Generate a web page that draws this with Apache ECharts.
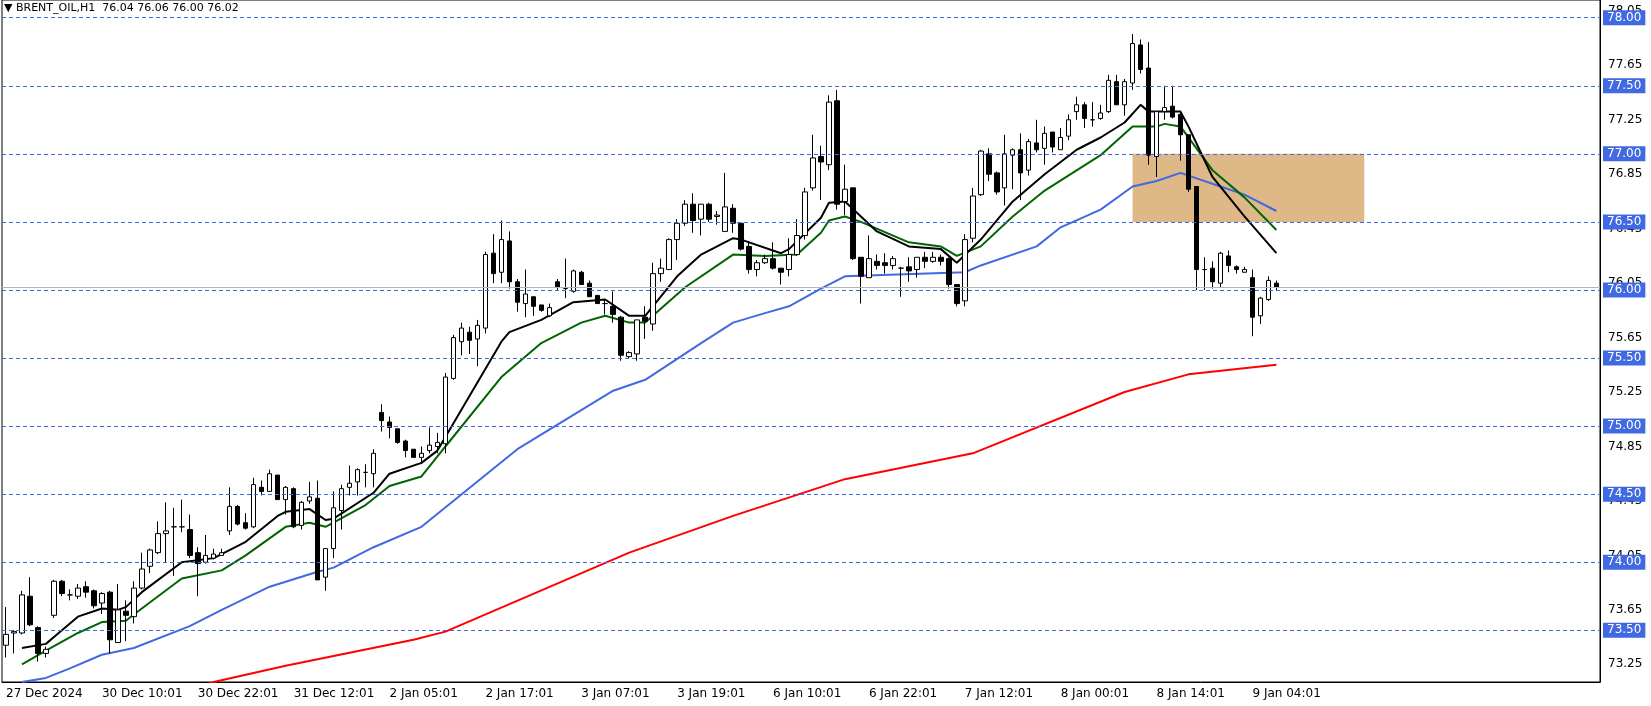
<!DOCTYPE html>
<html><head><meta charset="utf-8">
<script src="https://cdn.jsdelivr.net/npm/echarts@6/dist/echarts.min.js"></script>
<style>html,body{margin:0;padding:0;background:#fff}#c{width:1651px;height:706px}</style>
</head><body><div id="c"></div>
<script>
const tickLabels = ["27 Dec 2024","30 Dec 10:01","30 Dec 22:01","31 Dec 12:01","2 Jan 05:01","2 Jan 17:01","3 Jan 07:01","3 Jan 19:01","6 Jan 10:01","6 Jan 22:01","7 Jan 12:01","8 Jan 00:01","8 Jan 14:01","9 Jan 04:01"];
const ohlc = [
[73.39,73.67,73.30,73.47],[73.48,73.50,73.33,73.49],[73.48,73.79,73.47,73.76],[73.75,73.89,73.53,73.54],[73.52,73.53,73.27,73.33],
[73.33,73.38,73.30,73.36],[73.61,73.87,73.59,73.86],[73.86,73.87,73.75,73.77],[73.76,73.80,73.72,73.76],[73.75,73.84,73.73,73.81],
[73.82,73.86,73.74,73.78],[73.79,73.80,73.66,73.68],[73.70,73.78,73.62,73.77],[73.78,73.79,73.33,73.43],[73.41,73.84,73.41,73.65],
[73.64,73.72,73.42,73.61],[73.60,73.86,73.55,73.81],[73.81,74.07,73.80,73.95],[73.97,74.10,73.92,74.09],[74.07,74.30,74.06,74.21],
[74.21,74.44,74.00,74.23],[74.26,74.40,73.90,74.26],[74.26,74.46,74.22,74.26],[74.24,74.35,74.03,74.05],[74.07,74.11,73.75,73.99],
[74.00,74.20,73.99,74.05],[74.03,74.10,74.02,74.06],[74.05,74.10,74.05,74.07],[74.23,74.55,74.20,74.41],[74.41,74.42,74.27,74.28],
[74.29,74.36,74.24,74.25],[74.26,74.62,74.25,74.57],[74.55,74.60,74.49,74.52],[74.52,74.68,74.52,74.65],[74.64,74.64,74.46,74.46],
[74.46,74.56,74.35,74.55],[74.54,74.55,74.25,74.26],[74.27,74.45,74.24,74.44],[74.45,74.59,74.43,74.48],[74.47,74.60,73.87,73.87],
[73.89,74.10,73.79,74.10],[74.10,74.52,74.03,74.40],[74.38,74.57,74.24,74.54],[74.55,74.71,74.49,74.58],[74.59,74.69,74.49,74.68],
[74.66,74.72,74.55,74.66],[74.65,74.83,74.55,74.80],[75.10,75.16,74.96,75.04],[75.03,75.07,74.91,74.99],[74.98,74.98,74.87,74.88],
[74.89,74.90,74.77,74.82],[74.83,74.83,74.77,74.77],[74.77,74.85,74.72,74.80],[74.82,74.99,74.80,74.86],[74.85,74.95,74.80,74.88],
[74.87,75.39,74.80,75.36],[75.35,75.67,75.34,75.65],[75.62,75.76,75.52,75.72],[75.69,75.73,75.53,75.63],[75.64,75.78,75.44,75.74],
[75.72,76.28,75.68,76.26],[76.27,76.41,76.05,76.12],[76.13,76.51,76.05,76.37],[76.36,76.43,76.01,76.06],[76.06,76.08,75.84,75.91],
[75.90,76.15,75.80,75.97],[75.95,75.95,75.81,75.88],[75.89,75.89,75.84,75.85],[75.81,75.90,75.80,75.87],[76.06,76.08,76.00,76.02],
[76.01,76.23,75.94,76.01],[75.99,76.15,75.98,76.14],[76.13,76.14,76.04,76.04],[76.05,76.07,75.95,75.95],[75.96,75.96,75.90,75.90],
[75.90,75.93,75.82,75.90],[75.88,75.99,75.76,75.82],[75.80,75.81,75.48,75.52],[75.51,75.55,75.50,75.54],[75.53,75.78,75.48,75.78],
[75.80,75.88,75.64,75.77],[75.75,76.20,75.70,76.12],[76.12,76.23,76.06,76.16],[76.15,76.38,76.15,76.37],[76.37,76.52,76.22,76.49],
[76.49,76.66,76.47,76.63],[76.63,76.71,76.42,76.51],[76.52,76.63,76.40,76.63],[76.63,76.64,76.50,76.52],[76.54,76.58,76.48,76.55],
[76.43,76.86,76.43,76.61],[76.60,76.63,76.42,76.49],[76.49,76.49,76.29,76.30],[76.32,76.36,76.12,76.15],[76.15,76.22,76.10,76.20],
[76.20,76.26,76.19,76.23],[76.23,76.35,76.15,76.16],[76.16,76.16,76.04,76.13],[76.15,76.38,76.10,76.26],[76.26,76.52,76.25,76.40],
[76.40,76.75,76.37,76.72],[76.75,77.14,76.73,76.97],[76.98,77.06,76.66,76.94],[76.92,77.43,76.88,77.38],[77.39,77.47,76.59,76.63],
[76.65,76.92,76.55,76.74],[76.75,76.75,76.22,76.23],[76.24,76.24,75.90,76.10],[76.09,76.40,76.09,76.23],[76.21,76.26,76.15,76.18],
[76.20,76.27,76.12,76.18],[76.18,76.25,76.15,76.23],[76.16,76.17,75.95,76.16],[76.17,76.24,76.06,76.14],[76.15,76.24,76.09,76.24],
[76.24,76.28,76.16,76.21],[76.21,76.28,76.20,76.24],[76.24,76.26,76.18,76.21],[76.23,76.24,76.01,76.04],[76.04,76.04,75.88,75.90],
[75.92,76.41,75.88,76.37],[76.38,76.75,76.35,76.69],[76.70,77.03,76.69,77.02],[77.00,77.04,76.80,76.85],[76.86,76.87,76.70,76.72],
[76.75,77.14,76.62,77.00],[76.99,77.04,76.74,77.03],[77.03,77.15,76.66,76.86],[76.88,77.11,76.84,77.09],[77.08,77.25,77.01,77.03],
[77.04,77.20,76.92,77.15],[77.16,77.16,77.01,77.05],[77.03,77.19,77.03,77.12],[77.13,77.29,77.10,77.25],[77.31,77.42,77.25,77.36],
[77.36,77.38,77.19,77.26],[77.25,77.38,77.20,77.25],[77.26,77.36,77.25,77.30],[77.31,77.58,77.30,77.54],[77.53,77.58,77.36,77.36],
[77.36,77.55,77.28,77.53],[77.52,77.88,77.47,77.81],[77.80,77.84,77.59,77.62],[77.63,77.82,76.92,76.99],[76.98,77.31,76.83,77.31],
[77.31,77.50,77.25,77.34],[77.35,77.50,77.26,77.27],[77.29,77.30,76.95,77.14],[77.14,77.14,76.72,76.74],[76.76,76.76,76.00,76.15],
[76.15,76.24,76.00,76.15],[76.16,76.21,76.01,76.06],[76.05,76.28,76.02,76.27],[76.25,76.29,76.13,76.18],[76.17,76.18,76.12,76.15],
[76.13,76.17,76.13,76.15],[76.09,76.15,75.66,75.80],[75.81,75.95,75.75,75.94],[75.93,76.10,75.92,76.07],[76.05,76.07,76.00,76.02]
];
const blackMA = [[2,73.37],[5,73.40],[6,73.45],[9,73.60],[12,73.66],[14,73.65],[15,73.67],[17,73.78],[22,74.00],[26,74.03],[30,74.15],[34,74.34],[35,74.37],[38,74.39],[40,74.31],[41,74.32],[46,74.51],[48,74.65],[52,74.73],[54,74.82],[62,75.62],[63,75.69],[67,75.78],[71,75.91],[75,75.93],[78,75.81],[80,75.81],[84,76.10],[87,76.26],[91,76.38],[92,76.37],[97,76.27],[98,76.30],[102,76.53],[103,76.64],[105,76.65],[109,76.43],[113,76.32],[117,76.30],[119,76.20],[122,76.37],[126,76.65],[130,76.85],[134,77.03],[137,77.12],[140,77.23],[142,77.36],[143,77.31],[147,77.31],[148,77.20],[151,76.83],[155,76.54],[159,76.27]];
const greenMA = [[2,73.25],[5,73.35],[9,73.48],[12,73.56],[15,73.57],[17,73.66],[22,73.88],[27,73.94],[30,74.05],[35,74.26],[38,74.29],[40,74.26],[45,74.42],[48,74.56],[52,74.63],[55,74.85],[62,75.36],[67,75.61],[72,75.76],[75,75.81],[78,75.76],[80,75.76],[85,76.02],[91,76.26],[95,76.25],[99,76.26],[102,76.42],[103,76.51],[105,76.54],[107,76.50],[113,76.35],[117,76.32],[119,76.25],[122,76.32],[126,76.54],[130,76.73],[137,76.99],[141,77.20],[144,77.20],[145,77.22],[147,77.20],[151,76.88],[155,76.68],[159,76.44]];
const blueMA = [[2,73.12],[5,73.15],[8,73.22],[12,73.32],[16,73.37],[23,73.53],[27,73.65],[33,73.82],[39,73.93],[41,73.96],[46,74.11],[52,74.26],[64,74.83],[76,75.26],[80,75.34],[87,75.61],[91,75.76],[95,75.83],[98,75.88],[102,76.01],[105,76.10],[120,76.13],[122,76.18],[129,76.32],[132,76.46],[137,76.59],[141,76.76],[144,76.80],[147,76.86],[152,76.76],[155,76.70],[159,76.58]];
const redMA = [[24,73.08],[26,73.12],[35,73.24],[51,73.43],[55,73.49],[78,74.07],[91,74.34],[105,74.61],[121,74.80],[140,75.25],[148,75.38],[159,75.45]];
const axisTicks = [78.05,77.65,77.25,76.85,76.45,76.05,75.65,75.25,74.85,74.45,74.05,73.65,73.25];
const gridLevels = [78.00,77.50,77.00,76.50,76.00,75.50,75.00,74.50,74.00,73.50];
const zone = [141,170,76.50,77.00];
const lastPrice = 76.02;

const N = 200;
const cats = [];
for (let i=0;i<N;i++) cats.push(i%12===0 && tickLabels[i/12] ? tickLabels[i/12] : '');
const font = 'DejaVu Sans';
const marks = [];
axisTicks.forEach(v=>marks.push({yAxis:v,lineStyle:{color:'rgba(0,0,0,0)',width:1,type:'solid'},label:{show:true,position:'end',distance:8,formatter:v.toFixed(2),color:'#000',fontSize:12,fontFamily:font}}));
marks.push({yAxis:lastPrice,lineStyle:{type:'solid',color:'#b4b4b4',width:1},label:{show:false}});
gridLevels.forEach(v=>marks.push({yAxis:v,lineStyle:{type:[4,3],color:'#4169e1',width:1},label:{show:true,position:'end',distance:3,formatter:v.toFixed(2),color:'#fff',backgroundColor:'#4169e1',padding:[2,4,1,4],fontSize:12,fontFamily:font}}));

const line=(d,c,w)=>({type:'line',data:d,symbol:'none',smooth:false,lineStyle:{color:c,width:w},silent:true,z:3});
const chart = echarts.init(document.getElementById('c'));
chart.setOption({
  animation:false,
  grid:{left:2,right:51,top:0,bottom:24,show:true,borderColor:'#000',borderWidth:1},
  xAxis:{type:'category',data:cats,boundaryGap:true,
    axisLine:{lineStyle:{color:'#000'}},
    axisTick:{alignWithLabel:true,interval:(i)=>i%12===0&&i<168,length:4,lineStyle:{color:'#000'}},
    axisLabel:{interval:(i)=>i%12===0&&i<168,align:'left',color:'#000',fontSize:12,fontFamily:font,margin:6},
    splitLine:{show:false}},
  yAxis:{type:'value',position:'right',min:73.12,max:78.13,scale:true,
    axisLine:{show:true,lineStyle:{color:'#000'}},axisTick:{show:false},axisLabel:{show:false},splitLine:{show:false}},
  graphic:[{type:'text',left:4,top:3,style:{text:'▼ BRENT_OIL,H1  76.04 76.06 76.00 76.02',fontSize:11,fontFamily:font,fill:'#000'}}],
  series:[
    {type:'candlestick',data:ohlc.map(r=>[r[0],r[3],r[2],r[1]]),barWidth:5,
      itemStyle:{color:'#fff',color0:'#000',borderColor:'#000',borderColor0:'#000',borderWidth:1},z:4,
      markLine:{symbol:'none',silent:true,animation:false,data:marks},
      markArea:{silent:true,itemStyle:{color:'#deb887'},data:[[{xAxis:zone[0],yAxis:zone[2]},{xAxis:zone[1],yAxis:zone[3]}]]}},
    line(redMA,'#ff0000',2),
    line(blueMA,'#4169e1',2),
    line(greenMA,'#006400',2),
    line(blackMA,'#000000',2)
  ]
});
</script></body></html>
